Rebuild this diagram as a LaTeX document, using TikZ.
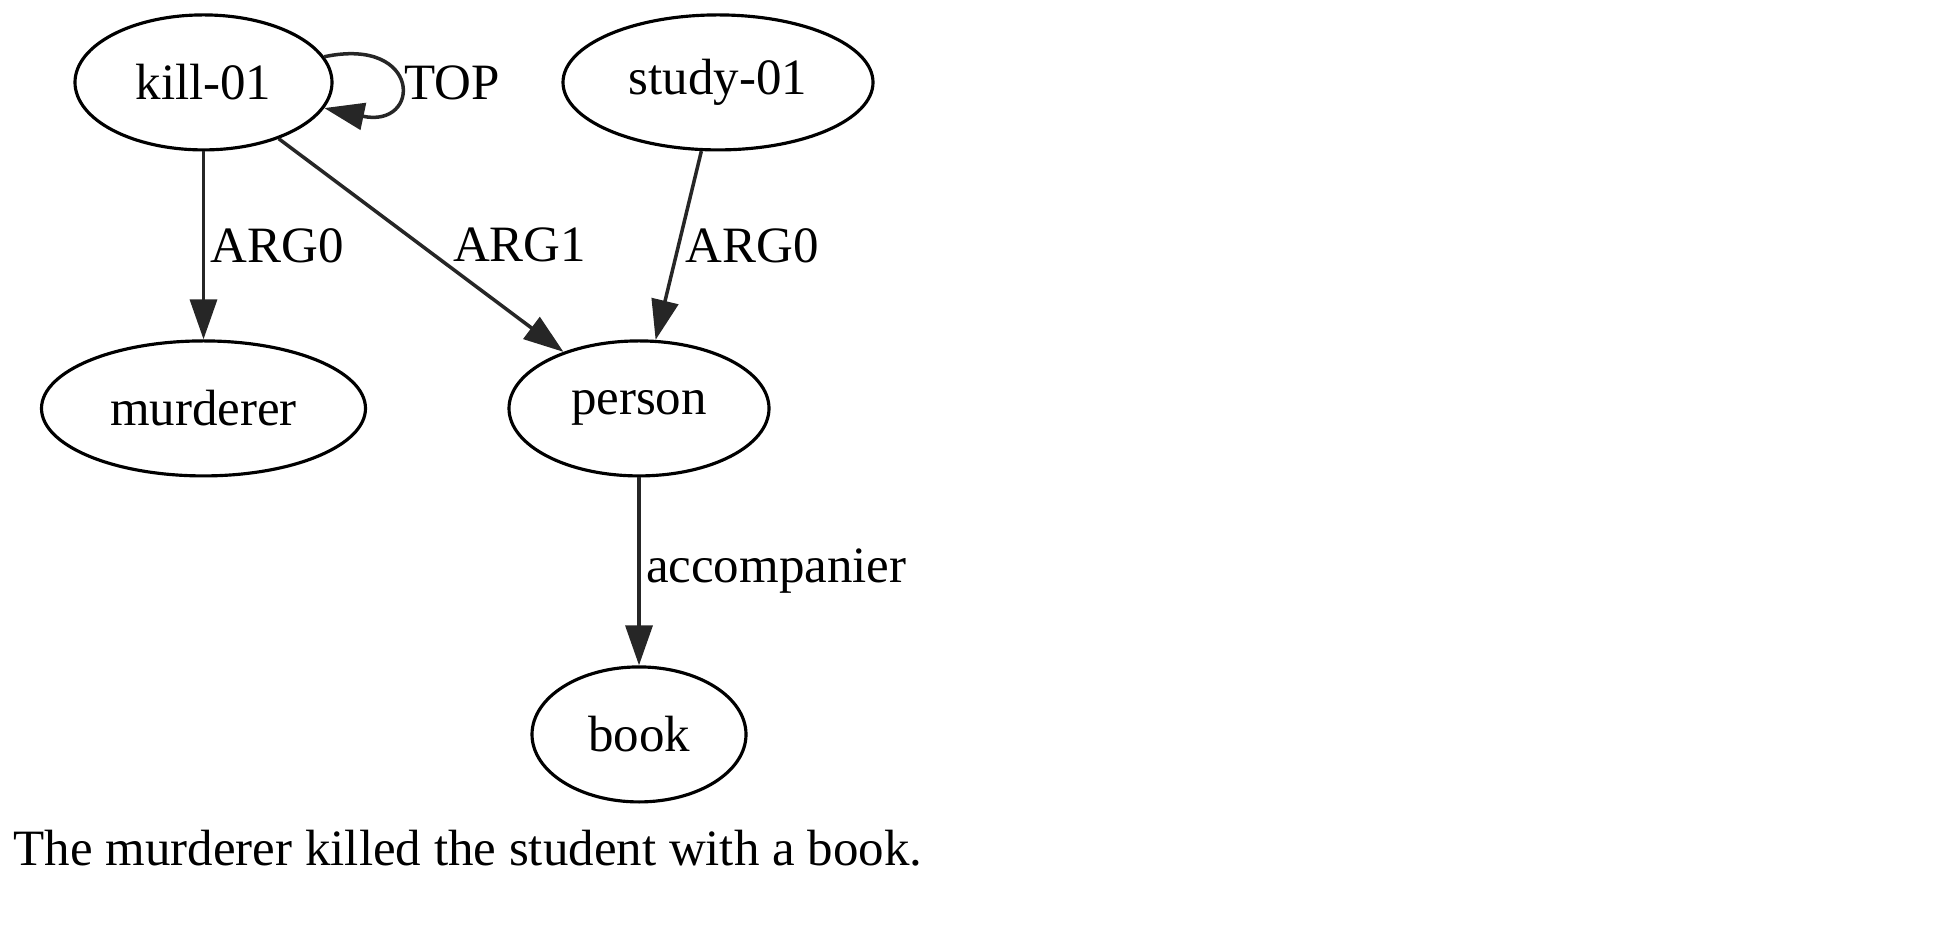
\documentclass[tikz,border=0pt]{standalone}
\usepackage{fontspec}
\setmainfont{Liberation Serif}
\usetikzlibrary{shapes,arrows.meta,positioning}

\begin{document}
\begin{tikzpicture}[node distance=3.26cm, auto, font=\fontsize{14.5}{17}\selectfont]
    % Define styles
    \tikzstyle{concept} = [ellipse, draw=black, line width=0.9pt, minimum height=1.35cm, text centered]
    \tikzstyle{arrow} = [line width=1pt, draw=black!85, -{Triangle[length=0.4cm, width=0.27cm]}]
    \tikzstyle{role} = [inner sep=1.5pt]

    \useasboundingbox (0,0) rectangle (19.58,-9.29);

    % Concepts
    \node [concept, minimum width=2.57cm] (kill) at (2.035,-0.824) {kill-01};
    \node [concept, minimum width=3.24cm, below of=kill] (murderer) {murderer};
    \node [concept, minimum width=2.6cm, right of=murderer, xshift=1.095cm] (person) {person};
    \node [concept, minimum width=3.1cm, above of=person, xshift=0.79cm] (study) {study-01};
    \node [concept, minimum width=2.14cm, below of=person] (book) {book};

    % Sentence
    \node (caption) at (4.68,-8.48) {The murderer killed the student with a book.};

    % Relations
    \draw [arrow] (kill) to [out=12, in=-12, looseness=5] node [role, right] {TOP} (kill);
    \draw [arrow] (kill) -- node [role, right] {ARG0} (murderer);
    \draw [arrow] (kill) -- node [role, right=0.25cm] {ARG1} (person);
    \draw [arrow] (study) -- node [role, right] {ARG0} (person);
    \draw [arrow] (person) -- node [role, right] {accompanier} (book);
\end{tikzpicture}
\end{document}
